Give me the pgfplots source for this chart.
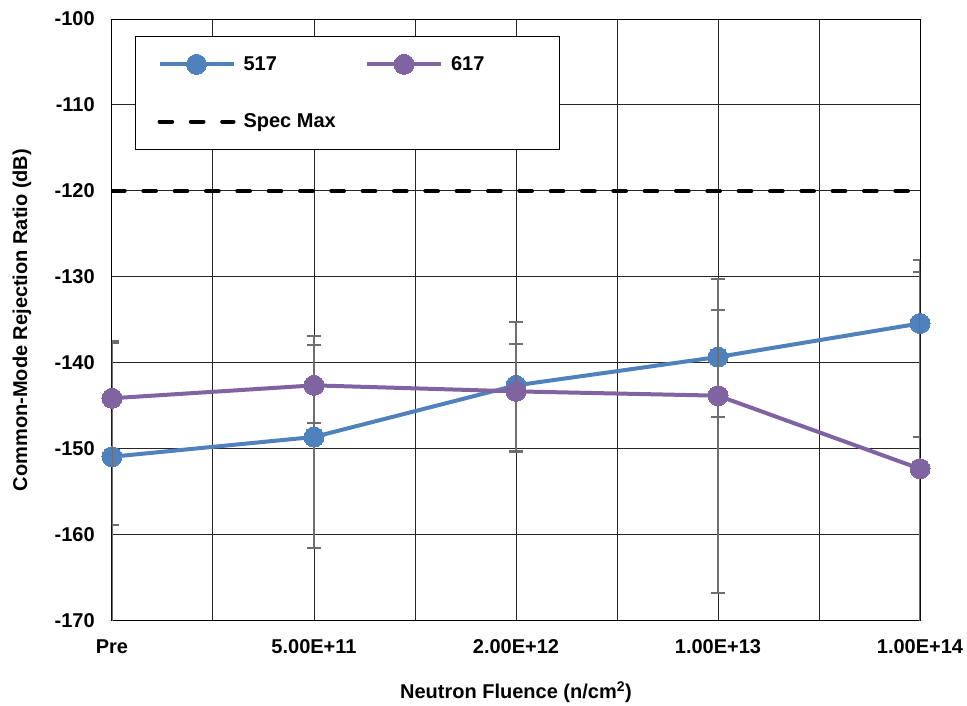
\documentclass[border=0pt]{standalone}
\usepackage{fontspec}
\setmainfont{Liberation Sans}
\usepackage{pgfplots}
\usepackage{pgfplotstable}
\pgfplotsset{compat=1.18}
\definecolor{c517}{HTML}{4F81BD}
\definecolor{c617}{HTML}{8064A2}
\definecolor{ebar}{HTML}{6E6E6E}

\pgfplotstableread{
x y ep em
0 -150.9 13.2 25.0
1 -148.6 11.7 12.9
2 -142.6 7.4 7.6
3 -139.3 9.1 7.0
4 -135.4 7.4 13.2
}\dataA
\pgfplotstableread{
x y ep em
0 -144.1 6.7 14.7
1 -142.6 4.7 4.4
2 -143.3 5.5 7.0
3 -143.8 10.0 22.9
4 -152.3 22.9 25.0
}\dataB

\begin{document}
\begin{tikzpicture}
\path[use as bounding box] (-84pt,-63.75pt) rectangle (641.25pt,465.75pt);
\begin{axis}[
  at={(0,0)}, anchor=south west,
  width=606pt, height=451.5pt, scale only axis,
  xmin=0, xmax=4, ymin=-170, ymax=-100,
  xtick={0,1,2,3,4},
  xticklabels={Pre,5.00E+11,2.00E+12,1.00E+13,1.00E+14},
  minor xtick={0.5,1.5,2.5,3.5},
  ytick={-170,-160,-150,-140,-130,-120,-110,-100},
  yticklabels={-170,-160,-150,-140,-130,-120,-110,-100},
  grid=both,
  major grid style={black!85, line width=0.75pt},
  minor grid style={black!85, line width=0.75pt},
  major tick length=0pt, minor tick length=0pt,
  axis line style={black, line width=0.75pt},
  font=\fontsize{15}{18}\selectfont\bfseries,
  tick label style={font=\fontsize{15}{18}\selectfont\bfseries},
  yticklabel style={inner sep=0pt, anchor=east, xshift=-12.75pt},
  xticklabel style={inner sep=0pt, anchor=north, yshift=-14pt},
  xlabel={Neutron Fluence (n/cm\textsuperscript{2})},
  ylabel={Common-Mode Rejection Ratio (dB)},
  xlabel style={at={(axis description cs:0.5,-0.118)}, anchor=center},
  ylabel style={at={(axis description cs:-0.1114,0.5)}, anchor=center},
  clip mode=individual,
  legend columns=2, legend cell align=left,
  legend image code/.code={\draw[mark repeat=2, mark phase=2] plot coordinates {(0pt,0pt) (27.75pt,0pt) (55.5pt,0pt)};},
  legend style={at={(axis description cs:0.0285,0.972)}, anchor=north west,
    draw=black, line width=0.75pt, fill=white,
    inner xsep=16.5pt, inner ysep=13pt, row sep=27pt,
    font=\fontsize{15}{18}\selectfont\bfseries,
    nodes={inner sep=2pt},
    /tikz/every odd column/.append style={column sep=4pt},
    /tikz/every even column/.append style={column sep=20pt}},
]
\addplot[color=c517, line width=3pt, mark=*, mark size=7.5pt,
  mark options={solid, fill=c517, draw=c517, line width=0pt},
  error bars/.cd, y dir=both, y explicit,
  error bar style={ebar, line width=1.5pt},
  error mark options={rotate=90, ebar, mark size=5pt, line width=1.5pt}]
  table[x=x, y=y, y error plus=ep, y error minus=em] {\dataA};
\addlegendentry{517}
\addplot[color=c617, line width=3pt, mark=*, mark size=7.5pt,
  mark options={solid, fill=c617, draw=c617, line width=0pt},
  error bars/.cd, y dir=both, y explicit,
  error bar style={ebar, line width=1.5pt},
  error mark options={rotate=90, ebar, mark size=5pt, line width=1.5pt}]
  table[x=x, y=y, y error plus=ep, y error minus=em] {\dataB};
\addlegendentry{617\hspace*{38pt}}
\addplot[black, line width=3pt, dash pattern=on 9.5pt off 14pt, line cap=round]
  coordinates {(0,-120) (4,-120)};
\addlegendentry{Spec Max}
\end{axis}
\end{tikzpicture}
\end{document}
